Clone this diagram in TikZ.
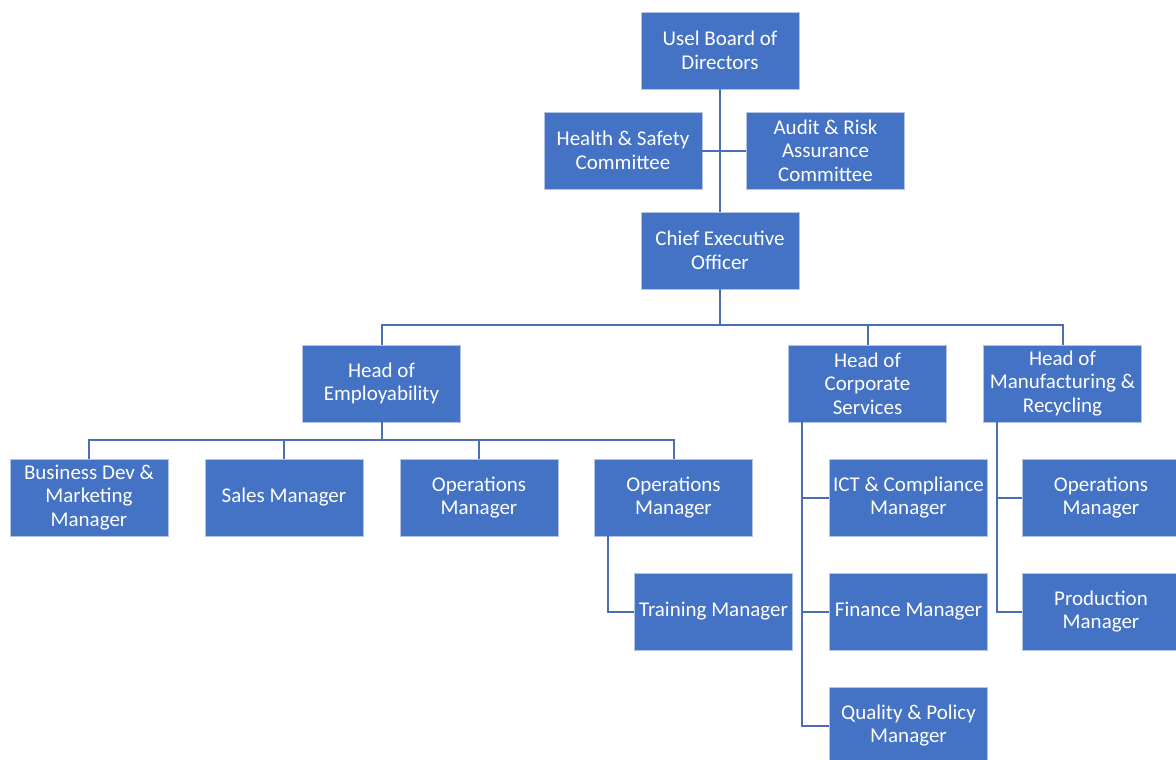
\documentclass[tikz,border=0pt]{standalone}
\usepackage{fontspec}
\setmainfont{Carlito}
\definecolor{boxblue}{HTML}{4472C4}
\definecolor{boxedge}{HTML}{B4C4E4}
\definecolor{linkblue}{HTML}{4A6EB5}
\begin{document}
\begin{tikzpicture}[x=1pt,y=-1pt,
  orgbox/.style={rectangle,fill=boxblue,draw=boxedge,line width=0.8pt,
    minimum width=158pt,minimum height=77pt,inner sep=0pt,
    text=white,align=center,font=\fontsize{21}{23.5}\selectfont},
  link/.style={draw=linkblue,line width=2pt}]
\useasboundingbox (0,0) rectangle (1176,760);
\node[orgbox] (board) at (720,50.5) {Usel Board of\\Directors};
\node[orgbox] (hs) at (623,150.5) {Health \& Safety\\Committee};
\node[orgbox] (ar) at (825.5,150.5) {Audit \& Risk\\Assurance\\Committee};
\node[orgbox] (ceo) at (720,250.5) {Chief Executive\\Officer};
\node[orgbox] (he) at (381.5,383.5) {Head of\\Employability};
\node[orgbox] (hc) at (867.5,383.5) {Head of\\Corporate\\Services};
\node[orgbox] (hm) at (1062.5,383.5) {Head of\\Manufacturing \&\\Recycling};
\node[orgbox] (bd) at (89,497.5) {Business Dev \&\\Marketing\\Manager};
\node[orgbox] (sales) at (284,497.5) {Sales Manager};
\node[orgbox] (ops1) at (479,497.5) {Operations\\Manager};
\node[orgbox] (ops2) at (673.5,497.5) {Operations\\Manager};
\node[orgbox] (train) at (713.5,611.5) {Training Manager};
\node[orgbox] (ict) at (908.5,497.5) {ICT \& Compliance\\Manager};
\node[orgbox] (fin) at (908.5,611.5) {Finance Manager};
\node[orgbox] (qual) at (908.5,725.5) {Quality \& Policy\\Manager};
\node[orgbox] (ops3) at (1101,497.5) {Operations\\Manager};
\node[orgbox] (prod) at (1101,611.5) {Production\\Manager};
\coordinate (bus1) at (720,325);
\coordinate (bus2) at (381.5,440);
\path[link] (board.south) -- (ceo.north);
\path[link] (hs.east) -- (ar.west);
\path[link] (ceo.south) -- (bus1);
\path[link] (he.north) |- (bus1);
\path[link] (hc.north) |- (bus1);
\path[link] (hm.north) |- (bus1);
\path[link] (he.south) -- (bus2);
\path[link] (bd.north) |- (bus2);
\path[link] (sales.north) |- (bus2);
\path[link] (ops1.north) |- (bus2);
\path[link] (ops2.north) |- (bus2);
\path[link] ([xshift=14pt]ops2.south west) |- (train.west);
\path[link] ([xshift=14pt]hc.south west) |- (ict.west);
\path[link] ([xshift=14pt]hc.south west) |- (fin.west);
\path[link] ([xshift=14pt]hc.south west) |- (qual.west);
\path[link] ([xshift=14pt]hm.south west) |- (ops3.west);
\path[link] ([xshift=14pt]hm.south west) |- (prod.west);
\end{tikzpicture}
\end{document}
